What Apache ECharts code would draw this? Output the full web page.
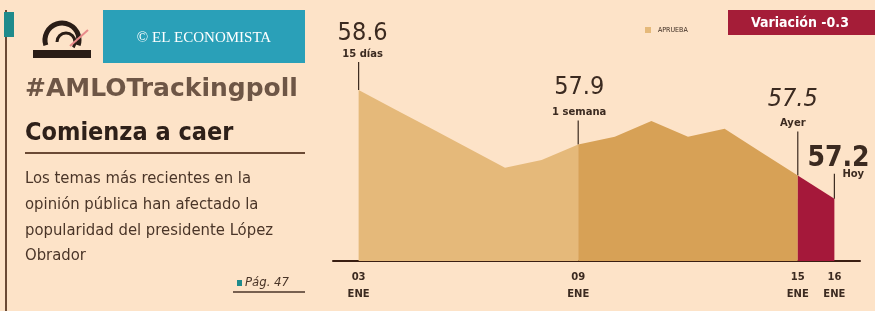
<!DOCTYPE html>
<html>
<head>
<meta charset="utf-8">
<script src="https://cdn.jsdelivr.net/npm/echarts@6/dist/echarts.min.js"></script>
<style>
  html, body { margin: 0; padding: 0; background: #fde3c8; }
  #chart { width: 875px; height: 311px; }
</style>
</head>
<body>
<div id="chart"></div>
<script>
// datos de aprobación diaria (enero)
const dias = [3, 4, 5, 6, 7, 8, 9, 10, 11, 12, 13, 14, 15, 16];
const aprueba = [58.6, 58.35, 58.1, 57.85, 57.6, 57.7, 57.9, 58.0, 58.2, 58.0, 58.1, 57.8, 57.5, 57.2];
// etiquetas del eje
const diasEtiqueta = [3, 9, 15, 16];
const textoEtiqueta = ['03\nENE', '09\nENE', '15\nENE', '16\nENE'];
// llamadas
const diasLlamada = [3, 9, 15, 16];
const textoLlamada = ['15 días', '1 semana', 'Ayer', 'Hoy'];
const variacion = -0.3;

const oscuro = '#3b2a20';

function tramo(a, b, color) {
    return {
        type: 'line',
        data: dias.slice(a, b + 1).map((d, i) => [d, aprueba[a + i]]),
        symbol: 'none',
        silent: true,
        lineStyle: { width: 0 },
        areaStyle: { color: color, opacity: 1, origin: 'start' }
    };
}

// estilo de cada llamada (posición relativa al punto)
const estiloLlamada = [
    { largo: 28, dx: 4, vy: -29, sy: -8, size: 25, weight: 'normal', style: 'normal', align: 'center', sdx: 4, salign: 'center' },
    { largo: 24, dx: 1, vy: -33, sy: -8, size: 25, weight: 'normal', style: 'normal', align: 'center', sdx: 1, salign: 'center' },
    { largo: 44, dx: -5, vy: -32, sy: -8, size: 25, weight: 'normal', style: 'italic', align: 'center', sdx: -5, salign: 'center' },
    { largo: 25, dx: -27, vy: -15, sy: 1, size: 28, weight: 'bold', style: 'normal', align: 'left', sdx: 8, salign: 'left' }
];

const datosLlamada = diasLlamada.map(d => [d, aprueba[dias.indexOf(d)]]);

const option = {
    backgroundColor: '#fde3c8',
    animation: false,
    grid: { left: 333, right: 15, top: 90, bottom: 50 },
    xAxis: {
        type: 'value',
        min: 2.3,
        max: 16.7,
        splitLine: { show: false },
        axisTick: { show: false },
        axisLine: { show: true, lineStyle: { color: '#3a1e12', width: 2 } },
        axisLabel: {
            customValues: diasEtiqueta,
            formatter: v => textoEtiqueta[diasEtiqueta.indexOf(v)] || '',
            fontFamily: 'DejaVu Sans',
            fontWeight: 'bold',
            fontSize: 10,
            lineHeight: 17,
            color: oscuro,
            margin: 8
        }
    },
    yAxis: { type: 'value', min: 56.4, max: 58.6, show: false },
    series: [
        tramo(0, 6, '#e5b97a'),
        tramo(6, 12, '#d7a156'),
        tramo(12, 13, '#a5183a'),
        {
            type: 'custom',
            silent: true,
            data: datosLlamada,
            renderItem: (params, api) => {
                const i = params.dataIndex;
                const s = estiloLlamada[i];
                const p = api.coord([api.value(0), api.value(1)]);
                const top = p[1] - s.largo;
                return {
                    type: 'group',
                    children: [
                        { type: 'line', shape: { x1: p[0], y1: p[1], x2: p[0], y2: top }, style: { stroke: oscuro, lineWidth: 1.2 } },
                        { type: 'text', x: p[0] + s.dx, y: top + s.vy, style: {
                            text: api.value(1).toFixed(1), fill: oscuro, fontSize: s.size, fontWeight: s.weight, fontStyle: s.style,
                            fontFamily: 'DejaVu Sans Condensed', align: s.align, verticalAlign: 'middle' } },
                        { type: 'text', x: p[0] + s.sdx, y: top + s.sy, style: {
                            text: textoLlamada[i], fill: oscuro, fontSize: 10, fontWeight: 'bold',
                            fontFamily: 'DejaVu Sans', align: s.salign, verticalAlign: 'middle' } }
                    ]
                };
            }
        }
    ],
    graphic: [
        // barra lateral
        { type: 'line', shape: { x1: 6, y1: 10, x2: 6, y2: 311 }, style: { stroke: '#6b4a35', lineWidth: 2 } },
        { type: 'rect', shape: { x: 4, y: 12, width: 10, height: 25 }, style: { fill: '#1f8b8c' } },
        // logotipo
        { type: 'arc', shape: { cx: 62, cy: 40, r: 17, startAngle: Math.PI * 0.9, endAngle: Math.PI * 2.1 }, style: { stroke: '#2a1d16', lineWidth: 5, fill: 'none' } },
        { type: 'arc', shape: { cx: 66, cy: 42, r: 9, startAngle: Math.PI * 1.0, endAngle: Math.PI * 2.2 }, style: { stroke: '#2a1d16', lineWidth: 3, fill: 'none' } },
        { type: 'line', shape: { x1: 70, y1: 46, x2: 88, y2: 30 }, style: { stroke: '#e88a8a', lineWidth: 2 } },
        { type: 'rect', shape: { x: 33, y: 50, width: 58, height: 8 }, style: { fill: '#2a1d16' } },
        // caja El Economista
        { type: 'rect', shape: { x: 103, y: 10, width: 202, height: 53 }, style: { fill: '#2aa0b8' } },
        { type: 'text', x: 204, y: 38, style: { text: '© EL ECONOMISTA', fill: '#ffffff', fontSize: 15, fontFamily: 'Liberation Serif', align: 'center', verticalAlign: 'middle' } },
        // titulares
        { type: 'text', x: 25, y: 89, style: { text: '#AMLOTrackingpoll', fill: '#6e5646', fontSize: 25, fontWeight: 'bold', fontFamily: 'DejaVu Sans', verticalAlign: 'middle' } },
        { type: 'text', x: 25, y: 133, style: { text: 'Comienza a caer', fill: '#2e2019', fontSize: 25, fontWeight: 'bold', fontFamily: 'DejaVu Sans Condensed', verticalAlign: 'middle' } },
        { type: 'line', shape: { x1: 25, y1: 153, x2: 305, y2: 153 }, style: { stroke: '#6b4a35', lineWidth: 2 } },
        { type: 'text', x: 25, y: 166, style: {
            text: 'Los temas más recientes en la\nopinión pública han afectado la\npopularidad del presidente López\nObrador',
            fill: '#4a3528', fontSize: 16.5, lineHeight: 25.7, fontFamily: 'DejaVu Sans Condensed', verticalAlign: 'top' } },
        { type: 'rect', shape: { x: 237, y: 280, width: 5, height: 6 }, style: { fill: '#1f8b8c' } },
        { type: 'text', x: 245, y: 283, style: { text: 'Pág. 47', fill: '#4a3528', fontSize: 13, fontStyle: 'italic', fontFamily: 'DejaVu Sans Condensed', verticalAlign: 'middle' } },
        { type: 'line', shape: { x1: 233, y1: 292, x2: 305, y2: 292 }, style: { stroke: '#4a3528', lineWidth: 1.5 } },
        // leyenda
        { type: 'rect', shape: { x: 645, y: 27, width: 6, height: 6 }, style: { fill: '#e5b97a' } },
        { type: 'text', x: 658, y: 30, style: { text: 'APRUEBA', fill: oscuro, fontSize: 7, fontFamily: 'DejaVu Sans Condensed', verticalAlign: 'middle' } },
        { type: 'rect', shape: { x: 728, y: 10, width: 147, height: 25 }, style: { fill: '#a51d38' } },
        { type: 'text', x: 800, y: 23, style: { text: 'Variación ' + variacion.toFixed(1), fill: '#ffffff', fontSize: 14, fontWeight: 'bold', fontFamily: 'DejaVu Sans Condensed', align: 'center', verticalAlign: 'middle' } }
    ]
};

const myChart = echarts.init(document.getElementById('chart'));
myChart.setOption(option);
</script>
</body>
</html>
